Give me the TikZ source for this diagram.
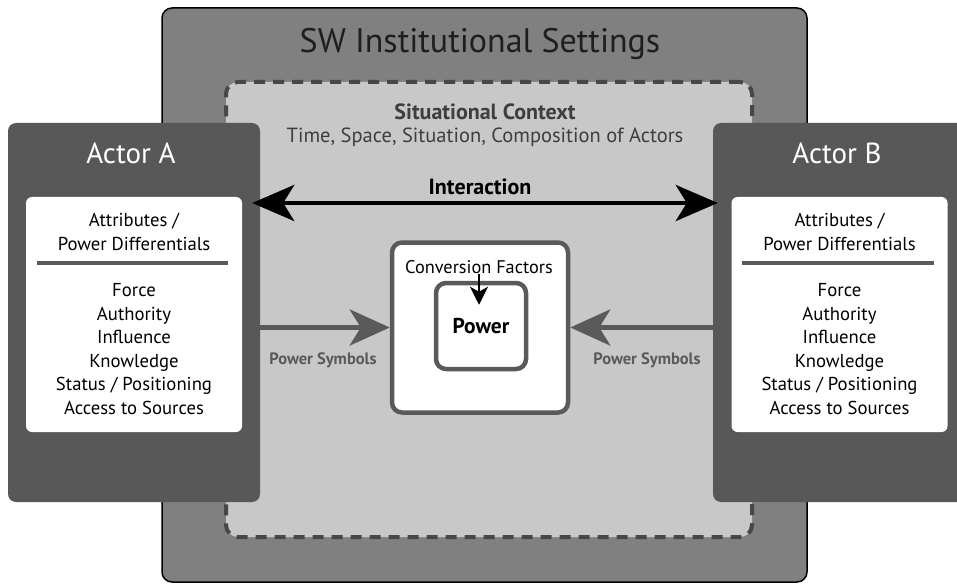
\documentclass[tikz,border=0pt]{standalone}
\usepackage{fontspec}
\setmainfont{PT Sans}
\usepackage{tikz}
\usetikzlibrary{positioning,calc,arrows.meta}

\definecolor{outergray}{HTML}{808080}
\definecolor{ctxgray}{HTML}{C8C8C8}
\definecolor{actorgray}{HTML}{585858}
\definecolor{dashgray}{HTML}{474747}
\definecolor{linegray}{HTML}{5A5A5A}
\definecolor{titlegray}{HTML}{1E1E1E}
\definecolor{ctxtext}{HTML}{3E3E3E}

\begin{document}
\begin{tikzpicture}[x=1pt,y=-1pt]
        \tikzstyle{frame}=[rectangle, inner sep=0pt]
        \tikzstyle{actor}=[frame, rounded corners=8pt, fill=actorgray, minimum width=252pt, minimum height=379pt]
        \tikzstyle{attr}=[frame, rounded corners=6pt, fill=white, minimum width=216pt, minimum height=235pt]
        \tikzstyle{txt}=[inner sep=0pt, align=center, font=\fontsize{18.7}{23.5}\selectfont]
        \tikzstyle{rulebar}=[line width=3.5pt, draw=linegray]
        \tikzstyle{ps}=[-{Stealth[length=40pt,width=36pt,inset=11pt]}, line width=5pt, draw=linegray]
        \tikzstyle{pslabel}=[txt, font=\bfseries\fontsize{16.5}{18}\selectfont, text=linegray]

        \useasboundingbox (0,0) rectangle (957,585);
        \clip (0,0) rectangle (957,585);

        \node[frame, rounded corners=10pt, draw=black, line width=1.5pt, fill=outergray, minimum width=645pt, minimum height=574pt] (inst) at (484.5,295) {};
        \node[txt, font=\fontsize{34}{40}\selectfont, text=titlegray] (instT) at (480,44) {SW Institutional Settings};

        \node[frame, rounded corners=12pt, draw=dashgray, line width=4pt, dash pattern=on 11pt off 8pt, fill=ctxgray, minimum width=526pt, minimum height=455pt] (ctx) at (489,309.5) {};
        \node[txt, font=\bfseries\fontsize{22}{26}\selectfont, text=ctxtext] (ctxT) at (485,112) {Situational Context};
        \node[txt, font=\fontsize{20.5}{24}\selectfont, text=ctxtext, below=7pt of ctxT] (ctxS) {Time, Space, Situation, Composition of Actors};

        \node[actor] (actA) at (134,312.5) {};
        \node[actor] (actB) at (839,312.5) {};
        \node[txt, font=\fontsize{29}{32}\selectfont, text=white] (actAT) at (131,153) {Actor A};
        \node[txt, font=\fontsize{29}{32}\selectfont, text=white] (actBT) at (837,153) {Actor B};

        \node[attr] (attA) at (134,314.5) {};
        \node[attr] (attB) at (839.5,314.5) {};
        \node[txt] (difA) at (134,232) {Attributes /\\Power Differentials};
        \node[txt] (difB) at (839.5,232) {Attributes /\\Power Differentials};
        \draw[rulebar] ($(attA.north west)+(11,66)$) -- ($(attA.north east)+(-14,66)$);
        \draw[rulebar] ($(attB.north west)+(11,66)$) -- ($(attB.north east)+(-14,66)$);
        \node[txt] (lstA) at (134,349) {Force\\Authority\\Influence\\Knowledge\\Status / Positioning\\Access to Sources};
        \node[txt] (lstB) at (839.5,349) {Force\\Authority\\Influence\\Knowledge\\Status / Positioning\\Access to Sources};

        % power in the middle
        \node[frame, rounded corners=10pt, draw=linegray, line width=4.5pt, fill=white, minimum width=176pt, minimum height=170pt] (conv) at (480,327.5) {};
        \node[frame, rounded corners=10pt, draw=linegray, line width=4.5pt, fill=white, minimum width=90pt, minimum height=86pt, font=\bfseries\fontsize{21.5}{24}\selectfont] (pow) at (481,326) {Power};
        \node[txt, font=\fontsize{18.3}{20}\selectfont] (cf) at (479,267) {Conversion Factors};
        \draw[-{Stealth[length=18pt,width=18pt,inset=5pt]}, line width=2pt] (cf.south) -- ($(pow.north)+(-2,24)$);

        \draw[ps] (actA.east |- conv.center) -- (conv.west);
        \draw[ps] (actB.west |- conv.center) -- (conv.east);
        \node[pslabel] (psA) at (323,360) {Power Symbols};
        \node[pslabel] (psB) at (647,360) {Power Symbols};

        \node[txt, font=\bfseries\fontsize{22}{26}\selectfont] (inter) at (480,187) {Interaction};
        \coordinate (ia) at (480,203);
        \draw[{Stealth[length=42pt,width=36pt,inset=11pt]}-{Stealth[length=42pt,width=36pt,inset=11pt]}, line width=4.5pt, shorten <=-8pt, shorten >=-5pt] (actA.east |- ia) -- (actB.west |- ia);
    \end{tikzpicture}
\end{document}
